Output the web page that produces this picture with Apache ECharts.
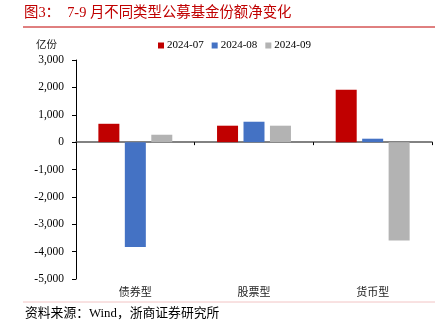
<!DOCTYPE html>
<html><head><meta charset="utf-8">
<script src="https://cdn.jsdelivr.net/npm/echarts@6/dist/echarts.min.js"></script>
<style>html,body{margin:0;padding:0;background:#fff}#c{width:447px;height:335px}</style>
</head><body><div id="c"></div>
<script>
const categories = ['债券型', '股票型', '货币型'];
const seriesNames = ['2024-07', '2024-08', '2024-09'];
const s2024_07 = [670, 600, 1910];
const s2024_08 = [-3830, 745, 125];
const s2024_09 = [270, 600, -3590];
const yTicks = { min: -5000, max: 3000, interval: 1000 };

const SERIF = '"Liberation Serif","Noto Sans CJK SC",serif';
const colors = ['#c00000', '#4472c4', '#b3b3b3'];
const chart = echarts.init(document.getElementById('c'), null, {renderer: 'canvas'});
const vals = [s2024_07, s2024_08, s2024_09];
chart.setOption({
  animation: false,
  color: colors,
  textStyle: { fontFamily: SERIF },
  grid: { left: 76, right: 15, top: 60, bottom: 56, containLabel: false },
  legend: {
    data: seriesNames, left: 153, top: 35, icon: 'rect', itemWidth: 6, itemHeight: 6, itemGap: 8,
    textStyle: { fontFamily: SERIF, fontSize: 11, color: '#000', padding: [0,0,0,-2] }
  },
  xAxis: [
    { type: 'category', data: categories, axisLine: { onZero: true, lineStyle: { color: '#595959', width: 1.5 } },
      axisTick: { show: true, length: 3, lineStyle: { color: '#000' } }, axisLabel: { show: false } },
    { type: 'category', data: categories, position: 'bottom', offset: 0,
      axisLine: { show: false }, axisTick: { show: false },
      axisLabel: { show: true, margin: 9, fontSize: 11, color: '#222', fontFamily: SERIF } }
  ],
  yAxis: {
    type: 'value', min: yTicks.min, max: yTicks.max, interval: yTicks.interval,
    axisLine: { show: true, lineStyle: { color: '#000', width: 1 } },
    axisTick: { show: true, length: 4, lineStyle: { color: '#000' } },
    splitLine: { show: false },
    axisLabel: { margin: 12, fontSize: 11.5, color: '#000', fontFamily: SERIF,
      formatter: v => v.toLocaleString('en-US') }
  },
  series: seriesNames.map((n, i) => ({
    name: n, type: 'bar', xAxisIndex: 0, data: vals[i], barWidth: 21, barGap: '26%'
  })),
  graphic: [
    { type: 'text', left: 24, top: 6, style: { text: '图3：  7-9 月不同类型公募基金份额净变化', fill: '#c00000', font: '14.4px ' + SERIF } },
    { type: 'line', shape: { x1: 23, y1: 27, x2: 435, y2: 27 }, style: { stroke: '#c00000', lineWidth: 1 } },
    { type: 'text', left: 36, top: 40, style: { text: '亿份', fill: '#222', font: '10.5px ' + SERIF } },
    { type: 'line', shape: { x1: 23, y1: 302, x2: 435, y2: 302 }, style: { stroke: '#f2c4c4', lineWidth: 1 } },
    { type: 'text', left: 25, top: 307, style: { text: '资料来源：Wind，浙商证券研究所', fill: '#000', font: '12.8px ' + SERIF } }
  ]
});
</script></body></html>
